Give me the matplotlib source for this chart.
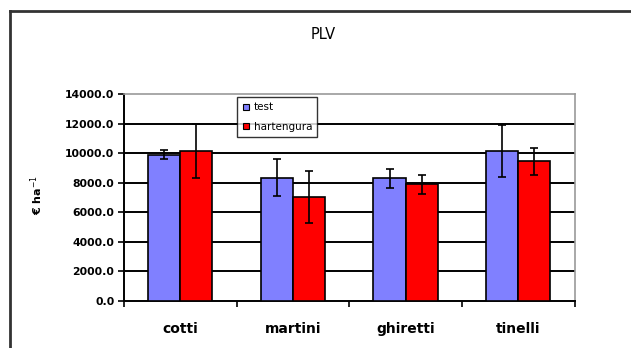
import matplotlib
matplotlib.use("Agg")
import matplotlib.pyplot as plt
import numpy as np
from matplotlib.lines import Line2D

plt.rcParams['font.family'] = ['DejaVu Sans']

# data
farms = ["cotti", "martini", "ghiretti", "tinelli"]
series_names = ["test", "hartengura"]
test_vals = [9900, 8350, 8300, 10150]
test_err = [300, 1280, 640, 1750]
other_vals = [10150, 7050, 7900, 9450]
other_err = [1850, 1770, 650, 930]
y_ticks = [0, 2000, 4000, 6000, 8000, 10000, 12000, 14000]

fig = plt.figure(figsize=(6.31, 3.48), dpi=100)
ax = fig.add_axes([0.1965, 0.136, 0.714, 0.593])

x = np.arange(len(farms))
w = 0.285
err_kw = dict(ecolor="black", elinewidth=1.2, capsize=3, capthick=1.2)
ax.bar(x - w / 2, test_vals, w, yerr=test_err, color="#8080ff",
       edgecolor="black", linewidth=1.2, error_kw=err_kw, zorder=3)
ax.bar(x + w / 2, other_vals, w, yerr=other_err, color="#ff0000",
       edgecolor="black", linewidth=1.2, error_kw=err_kw, zorder=3)

ax.set_xlim(-0.5, len(farms) - 0.5)
ax.set_ylim(0, 14000)

# gridlines, top one is the grey frame
for v in y_ticks[1:-1]:
    ax.axhline(v, color="black", linewidth=1.4, zorder=1)

ax.set_yticks(y_ticks)
ax.set_yticklabels([f"{v:.1f}" for v in y_ticks], fontsize=7.8, fontweight="bold")
ax.tick_params(axis="y", direction="out", length=4, width=1.2, pad=3)

# category boundaries as major ticks, names as minor labels
ax.set_xticks(np.arange(-0.5, len(farms), 1.0))
ax.set_xticklabels([])
ax.tick_params(axis="x", which="major", direction="out", length=4, width=1.2)
ax.set_xticks(x, minor=True)
ax.set_xticklabels(farms, minor=True, fontsize=10, fontweight="bold")
ax.tick_params(axis="x", which="minor", length=0, pad=15)

ax.spines["left"].set_linewidth(1.4)
ax.spines["bottom"].set_linewidth(1.4)
ax.spines["top"].set_color("#999999")
ax.spines["right"].set_color("#999999")
ax.spines["top"].set_linewidth(1.2)
ax.spines["right"].set_linewidth(1.2)

ax.set_ylabel("€ ha$^{-1}$", fontsize=8, fontweight="bold")
ax.yaxis.set_label_coords(-0.175, 0.51)
fig.text(0.512, 0.9, "PLV", ha="center", va="center", fontsize=10.5)

handles = [
    Line2D([], [], marker="s", linestyle="none", markersize=5,
           markerfacecolor="#8080ff", markeredgecolor="black", markeredgewidth=0.8),
    Line2D([], [], marker="s", linestyle="none", markersize=5,
           markerfacecolor="#ff0000", markeredgecolor="black", markeredgewidth=0.8),
]
leg = fig.legend(handles, series_names, loc="upper left",
                 bbox_to_anchor=(237 / 631, 1 - 97 / 348), fontsize=7.5,
                 frameon=True, fancybox=False, handlelength=0.7,
                 handletextpad=0.4, borderpad=0.5, labelspacing=0.9,
                 borderaxespad=0)
leg.get_frame().set_edgecolor("black")
leg.get_frame().set_linewidth(1.0)
leg.set_zorder(5)

# outer chart frame (only top and left visible)
fig.add_artist(Line2D([9.5 / 631, 9.5 / 631], [0, 1 - 11 / 348],
                      color="#333333", linewidth=2, transform=fig.transFigure))
fig.add_artist(Line2D([9.5 / 631, 1], [1 - 11 / 348, 1 - 11 / 348],
                      color="#333333", linewidth=2, transform=fig.transFigure))

fig.savefig("out.png", dpi=100)
